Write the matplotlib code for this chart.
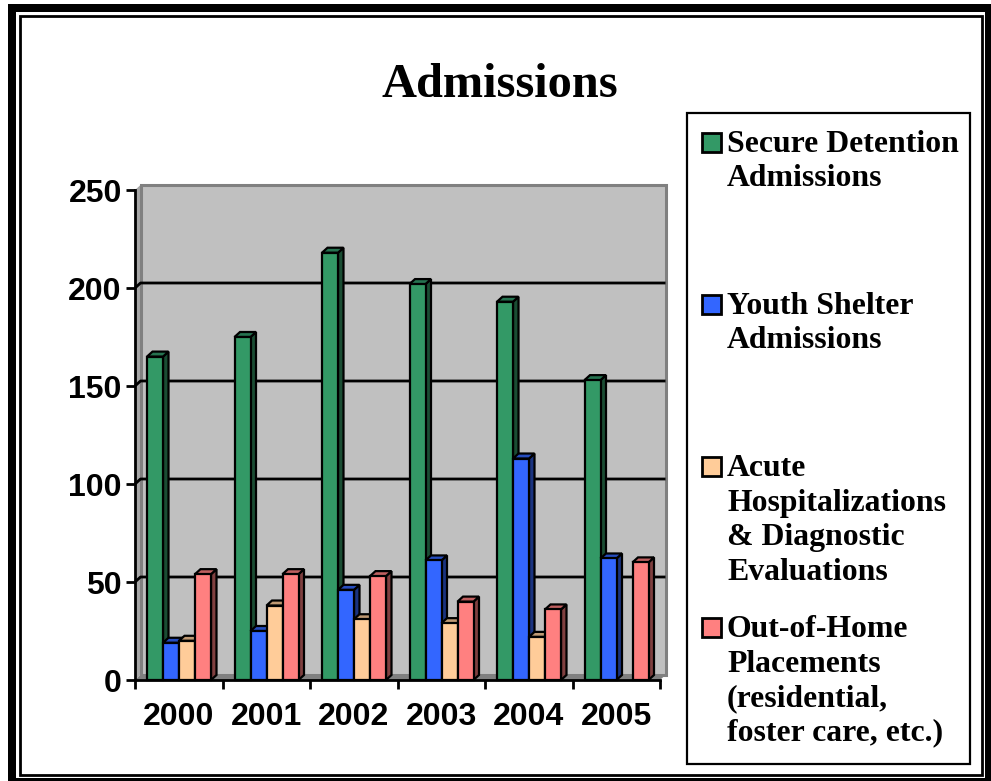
import matplotlib
matplotlib.use("Agg")
import matplotlib.pyplot as plt
from matplotlib.patches import Polygon, Rectangle

title = "Admissions"
years = ["2000", "2001", "2002", "2003", "2004", "2005"]
secure_detention = [165, 175, 218, 202, 193, 153]
youth_shelter = [19, 25, 46, 61, 113, 62]
acute_hospital = [20, 38, 31, 29, 22, 0]
out_of_home = [54, 54, 53, 40, 36, 60]
y_ticks = [0, 50, 100, 150, 200, 250]

legend_1 = ["Secure Detention", "Admissions"]
legend_2 = ["Youth Shelter", "Admissions"]
legend_3 = ["Acute", "Hospitalizations", "& Diagnostic", "Evaluations"]
legend_4 = ["Out-of-Home", "Placements", "(residential,", "foster care, etc.)"]

face = ["#339966", "#3366FF", "#FFCC99", "#FF8080"]
side = ["#1A4D33", "#1A3380", "#80664D", "#804040"]
top = ["#267350", "#264DBF", "#BF9973", "#BF6060"]

W, H = 991, 781
fig = plt.figure(figsize=(W / 100, H / 100), dpi=100, facecolor="white")

# page layer in pixel coordinates
bg = fig.add_axes([0, 0, 1, 1], zorder=0)
bg.set_xlim(0, W)
bg.set_ylim(H, 0)
bg.axis("off")
bg.add_patch(Rectangle((8, 4), W + 10, H + 10, fc="black", ec="none"))
bg.add_patch(Rectangle((16, 12), 969, 766, fc="white", ec="none"))
bg.add_patch(Rectangle((19.5, 15.5), 962.5, 759, fc="none", ec="black", lw=2.0))
bg.add_patch(Rectangle((686.5, 112.5), 283, 651, fc="white", ec="black", lw=1.6))

serif = "Liberation Serif"
bg.text(500, 97, title, family=serif, weight="bold", fontsize=34.8, ha="center",
        va="baseline", color="black")

legend_pos = [(legend_1, 152), (legend_2, 314), (legend_3, 476), (legend_4, 637)]
for (lines, base), col in zip(legend_pos, face):
    bg.add_patch(Rectangle((701.5, base - 19), 19, 19, fc=col, ec="black", lw=2.0))
    for k, line in enumerate(lines):
        bg.text(727, base + k * 34.5, line, family=serif, weight="bold", fontsize=22.9,
                ha="left", va="baseline", color="black")

# chart layer: 0..6 categories, 0..250 values
ax = fig.add_axes([135 / W, (H - 680) / H, 525 / W, 490 / H], zorder=1)
ax.set_xlim(0, 6)
ax.set_ylim(0, 250)
ax.patch.set_visible(False)

dx = 5.5 / 87.5
dy = 5 * 250 / 490
ymax = y_ticks[-1]

ax.add_patch(Polygon([(0, 0), (dx, dy), (dx, ymax + dy), (0, ymax)], fc="#A6A6A6", ec="none",
                     clip_on=False, zorder=1))
ax.add_patch(Polygon([(0, 0), (dx, dy), (6 + dx, dy), (6, 0)], fc="#808080", ec="none",
                     clip_on=False, zorder=1))
ax.add_patch(Rectangle((dx, dy), 6, ymax, fc="#C0C0C0", ec="#808080", lw=2.2,
                       clip_on=False, zorder=1.1))
for t in y_ticks[1:-1]:
    ax.plot([0, dx, 6 + dx], [t, t + dy, t + dy], color="black", lw=2.0, clip_on=False, zorder=1.5,
            solid_capstyle="butt")

series = [secure_detention, youth_shelter, acute_hospital, out_of_home]
bar_w = 16 / 87.5
start = 12 / 87.5
edge = 1.6
for s, vals in enumerate(series):
    z = 2 + s
    for i, v in enumerate(vals):
        if v <= 0:
            continue
        x0 = i + start + s * bar_w
        x1 = x0 + bar_w
        ax.add_patch(Polygon([(x1, 0), (x1 + dx, dy), (x1 + dx, v + dy), (x1, v)], fc=side[s],
                             ec="black", lw=edge, clip_on=False, zorder=z))
        ax.add_patch(Polygon([(x0, v), (x0 + dx, v + dy), (x1 + dx, v + dy), (x1, v)], fc=top[s],
                             ec="black", lw=edge, clip_on=False, zorder=z))
        ax.bar(x0, v, width=bar_w, align="edge", color=face[s], edgecolor="black", lw=edge,
               zorder=z + 0.1, clip_on=False)

for name in ("top", "right"):
    ax.spines[name].set_visible(False)
for name in ("left", "bottom"):
    ax.spines[name].set_linewidth(2.0)
    ax.spines[name].set_zorder(10)

ax.set_xticks(range(7))
ax.set_xticklabels([""] * 7)
ax.set_yticks(y_ticks)
ax.tick_params(axis="both", length=6.5, width=2.0, color="black")
ax.tick_params(axis="y", pad=3)
for lab in ax.get_yticklabels():
    lab.set_family("Liberation Sans")
    lab.set_weight("bold")
    lab.set_fontsize(23)
for i, yr in enumerate(years):
    ax.annotate(yr, xy=(i + 0.5, 0), xycoords="data", xytext=(0, -37), textcoords="offset pixels",
                ha="center", va="center", family="Liberation Sans", weight="bold", fontsize=23,
                annotation_clip=False)

fig.savefig("out.png", dpi=100)
